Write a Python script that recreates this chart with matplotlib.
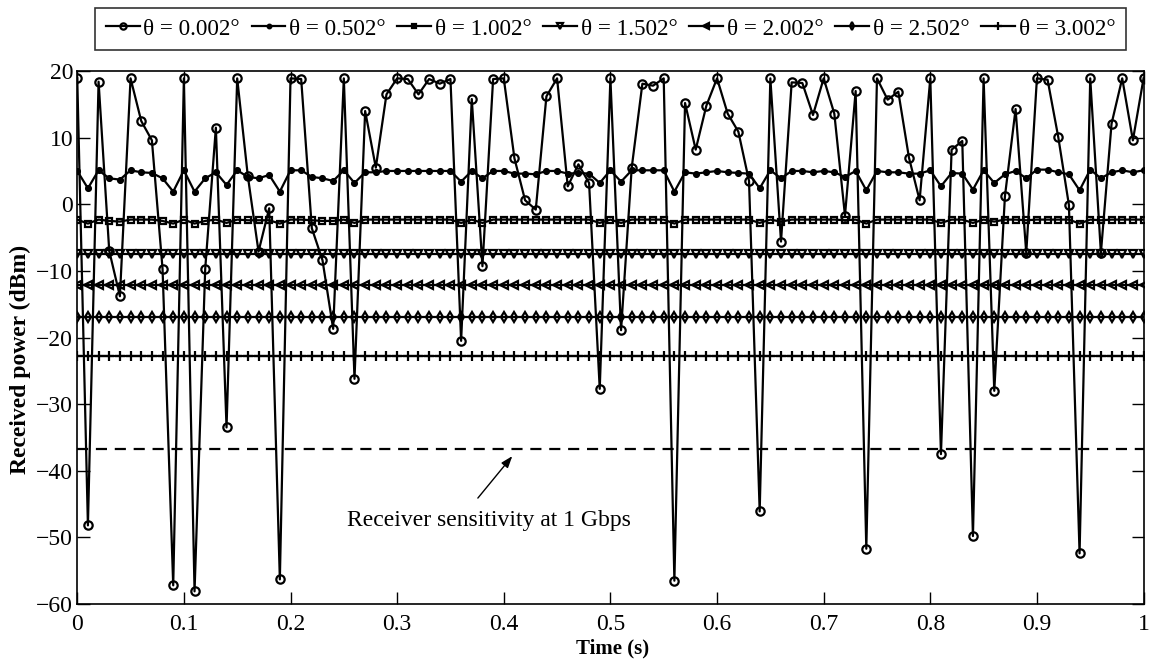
import numpy as np
import matplotlib
matplotlib.use("Agg")
import matplotlib.pyplot as plt

plt.rcParams['font.family'] = ['Liberation Serif', 'DejaVu Serif']

# time axis, one sample every 10 ms
t = np.linspace(0, 1, 101)

# received power (dBm) for each divergence angle
p_0002 = [18.9, -48.2, 18.4, -7.0, -13.8, 18.9, 12.5, 9.6, -9.7, -57.2,
          18.9, -58.1, -9.7, 11.5, -33.5, 18.9, 4.2, -7.1, -0.6, -56.3,
          18.9, 18.8, -3.6, -8.4, -18.7, 18.9, -26.2, 14.0, 5.5, 16.5,
          18.9, 18.8, 16.5, 18.8, 18.1, 18.8, -20.5, 15.8, -9.3, 18.8,
          18.9, 6.9, 0.6, -0.8, 16.2, 18.9, 2.7, 6.0, 3.2, -27.7,
          18.9, -18.9, 5.5, 18.1, 17.8, 18.9, -56.5, 15.2, 8.2, 14.8,
          18.9, 13.6, 10.9, 3.5, -46.1, 18.9, -5.6, 18.3, 18.2, 13.4,
          18.9, 13.6, -1.7, 17.0, -51.7, 18.9, 15.7, 16.9, 7.0, 0.6,
          18.9, -37.5, 8.2, 9.5, -49.8, 18.9, -28.0, 1.2, 14.3, -7.3,
          18.9, 18.7, 10.1, -0.1, -52.4, 18.9, -7.3, 12.1, 18.9, 9.6,
          18.9]
p_0502 = [5.0, 2.4, 5.1, 3.9, 3.7, 5.1, 4.8, 4.7, 3.9, 1.9,
          5.1, 1.9, 3.9, 4.8, 2.9, 5.1, 4.1, 3.9, 4.4, 1.9,
          5.1, 5.1, 4.1, 3.9, 3.5, 5.1, 3.2, 4.8, 4.8, 5.0,
          5.0, 5.0, 5.0, 5.0, 5.0, 5.0, 3.4, 5.0, 3.9, 5.0,
          5.0, 4.6, 4.6, 4.5, 5.0, 5.0, 4.6, 4.7, 4.6, 3.2,
          5.1, 3.4, 5.1, 5.1, 5.1, 5.1, 1.9, 4.8, 4.6, 4.8,
          5.0, 4.8, 4.7, 4.6, 2.4, 5.1, 3.9, 5.0, 5.0, 4.8,
          5.0, 4.8, 4.1, 5.0, 2.1, 5.0, 4.8, 4.8, 4.6, 4.6,
          5.1, 2.7, 4.7, 4.6, 2.2, 5.1, 3.2, 4.5, 5.0, 3.9,
          5.2, 5.2, 4.8, 4.5, 2.1, 5.2, 3.9, 4.8, 5.1, 4.8,
          5.1]
p_1002 = [-2.3, -2.9, -2.3, -2.5, -2.6, -2.3, -2.3, -2.3, -2.5, -2.9,
          -2.3, -2.9, -2.5, -2.3, -2.8, -2.3, -2.4, -2.4, -2.4, -2.9,
          -2.3, -2.3, -2.4, -2.5, -2.5, -2.3, -2.8, -2.3, -2.3, -2.3,
          -2.3, -2.3, -2.3, -2.3, -2.3, -2.3, -2.8, -2.3, -2.8, -2.3,
          -2.3, -2.3, -2.3, -2.3, -2.3, -2.3, -2.3, -2.3, -2.3, -2.8,
          -2.3, -2.8, -2.3, -2.3, -2.3, -2.3, -2.9, -2.3, -2.3, -2.3,
          -2.3, -2.3, -2.3, -2.3, -2.8, -2.3, -2.6, -2.3, -2.3, -2.3,
          -2.3, -2.3, -2.4, -2.3, -2.9, -2.3, -2.3, -2.3, -2.3, -2.3,
          -2.3, -2.8, -2.3, -2.3, -2.8, -2.3, -2.6, -2.3, -2.3, -2.4,
          -2.3, -2.3, -2.3, -2.3, -2.9, -2.3, -2.4, -2.3, -2.3, -2.3,
          -2.3]
p_1502 = [-7.5] * 101
p_2002 = [-12.1] * 101
p_2502 = [-16.9] * 101
p_3002 = [-22.7] * 101
sensitivity = -36.8

series = [p_0002, p_0502, p_1002, p_1502, p_2002, p_2502, p_3002]
labels = ['θ = 0.002°', 'θ = 0.502°', 'θ = 1.002°', 'θ = 1.502°',
          'θ = 2.002°', 'θ = 2.502°', 'θ = 3.002°']
markers = ['o', '.', 's', 'v', '<', 'd', '+']
msizes = [6, 7, 4.5, 5.5, 6, 5.5, 7]
mfcs = ['none', 'k', 'none', 'none', 'none', 'none', 'k']

fig = plt.figure(figsize=(11.53, 6.62), dpi=100)
ax = fig.add_axes([0.067, 0.0876, 0.9248, 0.8051])

for y, lab, m, ms, fc in zip(series, labels, markers, msizes, mfcs):
    ax.plot(t, y, color='k', lw=1.6, marker=m, ms=ms, mfc=fc, mec='k',
            mew=1.6, label=lab)

ax.axhline(sensitivity, color='k', lw=1.6, ls=(0, (5, 3.5)))
ax.text(0.386, -47.4, 'Receiver sensitivity at 1 Gbps', ha='center',
        va='center', fontsize=17)
ax.annotate('', xy=(0.408, -37.8), xytext=(0.3757, -44.1),
            arrowprops=dict(arrowstyle='-|>,head_length=0.7,head_width=0.25',
                            color='k', lw=1.0, shrinkA=0, shrinkB=0))

ax.set_xlim(0, 1)
ax.set_ylim(-60, 20)
ax.set_xticks(np.arange(0, 1.01, 0.1))
ax.set_xticklabels(['0', '0.1', '0.2', '0.3', '0.4', '0.5', '0.6', '0.7',
                    '0.8', '0.9', '1'])
ax.set_yticks(np.arange(-60, 21, 10))
ax.set_yticklabels(['\u221260', '\u221250', '\u221240', '\u221230',
                    '\u221220', '\u221210', '0', '10', '20'])
ax.tick_params(axis='both', direction='in', length=9, width=1,
               labelsize=17, top=True, right=True)
ax.tick_params(axis='x', pad=7)
ax.tick_params(axis='y', pad=3)
for s in ax.spines.values():
    s.set_linewidth(1.2)

ax.set_xlabel('Time (s)', fontsize=15, fontweight='bold')
ax.xaxis.set_label_coords(0.502, -0.064)
ax.set_ylabel('Received power (dBm)', fontsize=17, fontweight='bold')
ax.yaxis.set_label_coords(-0.043, 0.458)

leg = fig.legend(loc='upper center', bbox_to_anchor=(0.5295, 0.988), ncol=7,
                 fontsize=16.7, frameon=True, fancybox=False,
                 handlelength=1.45, handletextpad=0.17, columnspacing=0.5,
                 borderpad=0.45, borderaxespad=0, markerscale=0.75)
leg.get_frame().set_edgecolor('k')
leg.get_frame().set_linewidth(1.2)

fig.savefig('out.png', dpi=100)
